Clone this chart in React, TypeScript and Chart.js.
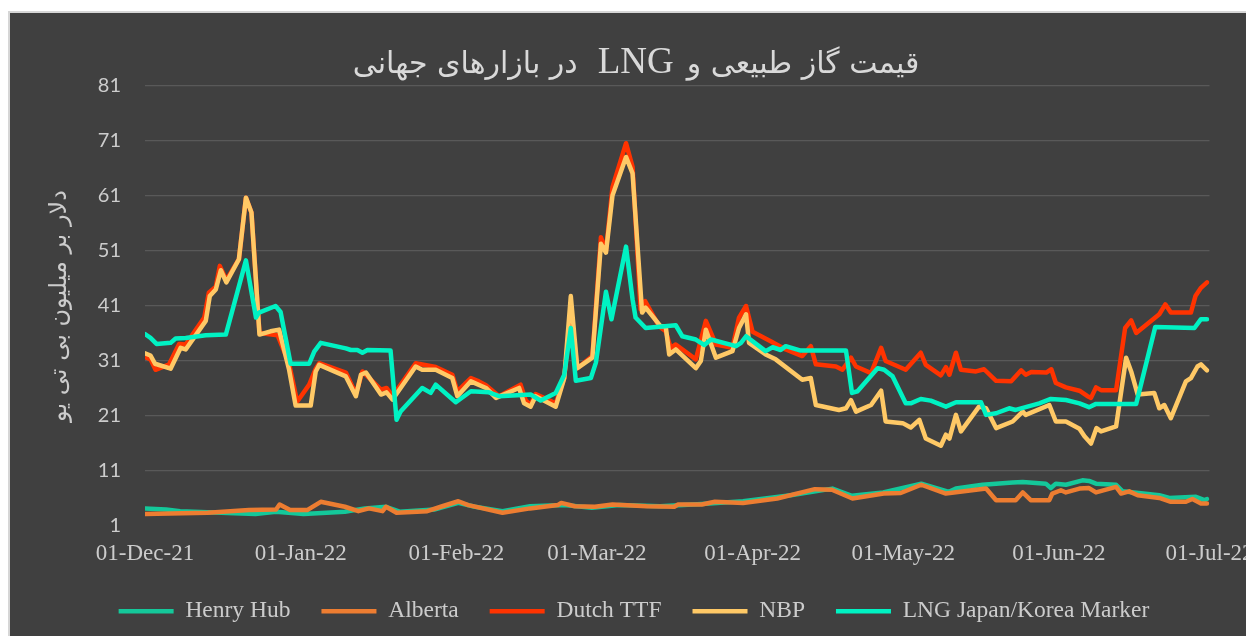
import React, { useEffect, useRef } from "react";
import { Chart, registerables } from "chart.js";

Chart.register(...registerables);

// title pieces in reading order (right-to-left)
const titleParts = ["قیمت گاز طبیعی و", "LNG", "در بازارهای جهانی"];
const yAxisTitle = "دلار بر میلیون بی تی یو";

// x values are days counted from 01-Dec-21
const xTickDays = [0, 31, 62, 90, 121, 151, 182, 212];
const xTickLabels = ["01-Dec-21", "01-Jan-22", "01-Feb-22", "01-Mar-22", "01-Apr-22", "01-May-22", "01-Jun-22", "01-Jul-22"];
const yTickValues = [1, 11, 21, 31, 41, 51, 61, 71, 81];

const henryDay = [0, 4.2, 7.0, 15.1, 22.0, 26.1, 31.6, 39.8, 43.8, 48.0, 50.7, 57.6, 62.4, 65.7, 71.2, 76.7, 83.5, 89.0, 94.4, 102.6, 110.9, 119.1, 128.6, 136.9, 140.8, 147.0, 154.6, 160.1, 161.5, 166.8, 172.8, 174.8, 179.4, 180.4, 181.4, 183.4, 186.7, 188.0, 189.4, 193.4, 194.7, 202.0, 204.0, 209.3, 211.0, 211.5];
const henryVal = [4.2, 4.0, 3.7, 3.4, 3.2, 3.6, 3.2, 3.6, 4.2, 4.5, 3.6, 4.0, 5.2, 4.5, 3.7, 4.6, 4.8, 4.3, 4.8, 4.6, 5.0, 5.5, 6.6, 7.8, 6.5, 7.1, 8.7, 7.2, 7.8, 8.5, 8.9, 9.0, 8.7, 7.9, 8.7, 8.5, 9.3, 9.2, 8.7, 8.5, 7.3, 6.6, 6.1, 6.3, 5.7, 5.9];

const albertaDay = [0, 12.5, 20.7, 26.1, 26.8, 28.9, 32.3, 35.0, 39.8, 42.5, 44.6, 47.3, 48.0, 50.1, 56.2, 58.9, 62.4, 64.4, 71.2, 76.7, 82.2, 82.9, 85.6, 89.6, 93.1, 99.9, 105.4, 106.1, 110.9, 113.5, 119.1, 125.9, 133.4, 136.8, 140.9, 147.1, 150.5, 154.6, 159.5, 167.5, 169.5, 173.4, 174.8, 176.4, 180.1, 180.7, 182.4, 183.4, 186.1, 188.0, 189.4, 193.4, 194.4, 196.0, 197.7, 202.0, 204.3, 207.3, 208.6, 210.3, 211.5];
const albertaVal = [3.2, 3.4, 3.9, 4.0, 4.9, 3.9, 3.9, 5.4, 4.5, 3.7, 4.2, 3.7, 4.5, 3.4, 3.7, 4.5, 5.5, 4.8, 3.4, 4.2, 4.8, 5.2, 4.6, 4.5, 4.9, 4.6, 4.5, 4.9, 4.9, 5.4, 5.2, 6.0, 7.7, 7.6, 6.0, 6.9, 7.0, 8.5, 6.9, 7.8, 5.7, 5.7, 7.1, 5.7, 5.7, 6.9, 7.5, 7.1, 7.8, 7.9, 7.1, 8.1, 6.9, 7.3, 6.6, 6.1, 5.4, 5.4, 5.9, 5.1, 5.1];

const ttfDay = [0, 1.1, 2.1, 4.8, 6.8, 8.1, 11.8, 12.7, 14.1, 14.9, 16.2, 18.7, 20.1, 21.2, 22.8, 26.4, 28.7, 30.3, 32.7, 34.0, 34.7, 40.0, 42.0, 43.3, 47.0, 48.1, 49.3, 53.9, 57.9, 61.2, 62.2, 64.9, 66.5, 67.9, 70.5, 74.8, 75.8, 76.8, 77.8, 81.8, 83.5, 84.8, 86.1, 89.1, 90.8, 91.8, 93.1, 95.8, 97.1, 98.7, 99.6, 102.4, 103.7, 104.7, 105.7, 109.7, 111.7, 113.7, 117.0, 118.3, 119.7, 121.0, 124.6, 127.6, 130.9, 132.6, 133.6, 137.6, 138.9, 140.6, 141.6, 144.6, 146.6, 147.5, 151.5, 154.5, 155.5, 158.5, 159.5, 160.2, 161.5, 162.5, 165.5, 167.1, 169.5, 172.5, 174.5, 175.4, 176.5, 179.5, 180.5, 181.4, 183.4, 186.1, 187.7, 188.4, 189.4, 190.4, 193.4, 195.2, 196.4, 197.4, 202.0, 203.2, 204.3, 208.3, 209.2, 210.3, 211.5];
const ttfVal = [31.7, 31.3, 29.4, 30.4, 34.1, 34.0, 38.9, 43.4, 44.5, 48.3, 45.7, 49.5, 60.7, 58.0, 36.1, 35.7, 30.5, 23.6, 26.7, 29.6, 30.6, 28.9, 25.0, 29.1, 25.8, 26.1, 24.6, 30.6, 29.9, 28.5, 25.5, 27.9, 27.3, 26.6, 24.6, 26.7, 23.9, 23.0, 25.0, 23.3, 27.9, 40.0, 29.7, 31.9, 53.5, 51.0, 62.6, 70.6, 66.3, 40.4, 41.9, 37.3, 36.4, 33.4, 34.0, 31.3, 38.3, 34.0, 33.4, 38.9, 41.0, 36.3, 34.6, 33.1, 31.9, 33.7, 30.4, 30.0, 29.4, 31.6, 30.0, 28.8, 33.4, 31.0, 29.4, 32.5, 30.3, 28.4, 29.9, 28.5, 32.5, 29.4, 29.1, 29.5, 27.4, 27.3, 29.3, 28.5, 29.0, 28.9, 29.5, 27.0, 26.2, 25.6, 24.6, 24.3, 26.2, 25.7, 25.7, 37.0, 38.4, 36.1, 39.5, 41.3, 39.8, 39.8, 42.8, 44.3, 45.3];

const nbpDay = [0, 1.1, 2.0, 5.1, 7.1, 8.1, 12.1, 12.9, 14.1, 15.1, 16.2, 18.7, 20.1, 21.2, 22.8, 25.0, 26.7, 28.7, 30.0, 33.0, 34.0, 34.7, 40.0, 42.0, 43.0, 44.0, 47.0, 48.1, 49.3, 53.9, 55.2, 57.9, 61.2, 62.2, 64.9, 67.9, 69.9, 74.5, 75.5, 76.8, 77.8, 81.8, 83.5, 84.8, 86.1, 89.1, 90.8, 91.8, 93.1, 95.8, 97.1, 99.0, 99.7, 102.7, 103.7, 104.4, 105.7, 109.7, 110.7, 111.7, 113.7, 117.0, 118.3, 119.7, 120.3, 123.6, 125.6, 130.9, 132.6, 133.6, 138.2, 139.6, 140.6, 141.6, 144.6, 146.6, 147.5, 150.9, 152.5, 154.2, 155.5, 158.5, 159.5, 160.2, 161.5, 162.5, 166.1, 167.5, 169.5, 172.8, 174.8, 175.4, 180.1, 181.4, 183.4, 186.1, 187.1, 188.4, 189.5, 190.4, 193.4, 195.4, 196.4, 197.7, 201.0, 202.0, 203.0, 204.3, 207.3, 208.3, 209.6, 210.3, 211.5];
const nbpVal = [32.4, 32.0, 30.5, 29.6, 33.4, 33.1, 38.3, 42.8, 44.0, 47.5, 45.3, 49.5, 60.7, 58.0, 35.8, 36.4, 36.7, 29.4, 22.9, 22.9, 29.1, 30.3, 28.2, 24.6, 28.5, 28.9, 24.9, 25.3, 24.0, 30.0, 29.4, 29.4, 27.9, 24.6, 27.3, 26.1, 24.3, 26.1, 23.3, 22.7, 24.6, 22.7, 27.9, 42.8, 29.7, 31.6, 52.3, 50.7, 61.1, 68.1, 65.1, 39.8, 40.7, 37.3, 37.3, 32.2, 33.1, 29.7, 31.0, 36.7, 31.6, 32.8, 37.0, 39.5, 34.3, 32.2, 31.3, 27.6, 27.9, 23.0, 22.1, 22.4, 23.9, 21.8, 23.0, 25.6, 20.0, 19.7, 18.9, 20.3, 16.9, 15.6, 17.6, 16.9, 21.2, 18.2, 22.7, 22.4, 18.8, 20.0, 21.8, 21.2, 23.0, 20.0, 20.0, 18.7, 17.3, 16.0, 18.8, 18.2, 19.1, 31.6, 29.1, 24.9, 25.2, 22.4, 23.0, 20.6, 27.3, 27.9, 30.0, 30.4, 29.3];

const lngDay = [0, 1.1, 2.3, 5.1, 6.1, 8.1, 12.1, 16.1, 20.1, 22.1, 22.7, 26.0, 27.0, 29.0, 32.7, 33.7, 35.0, 40.0, 41.0, 42.3, 43.3, 44.3, 48.9, 50.1, 50.9, 55.2, 56.9, 57.9, 61.9, 64.9, 68.5, 70.5, 76.8, 78.8, 81.8, 83.5, 84.8, 85.8, 88.8, 89.8, 91.8, 92.9, 95.8, 97.1, 97.7, 99.7, 105.7, 107.0, 109.7, 111.4, 112.7, 117.7, 118.7, 119.7, 123.6, 125.0, 126.6, 127.6, 130.6, 139.6, 140.8, 141.9, 145.9, 147.2, 148.9, 151.5, 152.5, 154.5, 156.5, 159.5, 161.5, 166.5, 167.5, 169.5, 172.1, 173.4, 178.1, 180.4, 183.4, 186.1, 188.0, 189.4, 197.4, 201.2, 209.0, 210.3, 211.5];
const lngVal = [35.9, 35.2, 34.1, 34.3, 35.1, 35.2, 35.7, 35.8, 49.3, 38.9, 39.8, 41.0, 39.9, 30.5, 30.5, 32.7, 34.3, 33.3, 33.0, 33.0, 32.5, 33.0, 32.9, 20.3, 21.8, 26.1, 25.2, 26.7, 23.5, 25.5, 25.3, 24.6, 24.9, 23.8, 25.2, 28.5, 37.0, 27.4, 27.9, 30.7, 43.6, 38.6, 51.8, 42.2, 38.9, 37.0, 37.5, 35.5, 34.9, 33.9, 34.9, 33.7, 34.3, 35.5, 32.8, 33.5, 33.0, 33.7, 32.9, 32.9, 25.2, 25.5, 29.7, 29.4, 28.2, 23.3, 23.3, 24.1, 23.8, 22.7, 23.5, 23.5, 21.2, 21.5, 22.4, 22.1, 23.3, 24.1, 23.9, 23.3, 22.6, 23.2, 23.2, 37.2, 37.0, 38.6, 38.6];

const seriesNames = ["Henry Hub", "Alberta", "Dutch TTF", "NBP", "LNG Japan/Korea Marker"];
const seriesColors = ["#14c89a", "#ed7d31", "#ff3300", "#ffc966", "#00f2c3"];

const CANVAS_W = 1248;
const CANVAS_H = 620;
const PLOT_TOP = 73;
const PLOT_BOTTOM = 513;
const PLOT_RIGHT_GAP = 48.5;

const toPoints = (days: number[], vals: number[]) => days.map((d, i) => ({ x: d, y: vals[i] }));

const titlePlugin = {
  id: "rtlTitle",
  afterDraw(chart: any) {
    const ctx = chart.ctx;
    const arabicFont = '30px "DejaVu Sans", sans-serif';
    const latinFont = '37px "Liberation Serif", serif';
    const fonts = [arabicFont, latinFont, arabicFont];
    const gaps = [13, 20];
    ctx.save();
    const widths = titleParts.map((t, i) => {
      ctx.font = fonts[i];
      return ctx.measureText(t).width;
    });
    const total = widths.reduce((a: number, b: number) => a + b, 0) + gaps[0] + gaps[1];
    let right = chart.width / 2 + 2 + total / 2;
    ctx.fillStyle = "#d9d9d9";
    ctx.textAlign = "right";
    ctx.textBaseline = "alphabetic";
    titleParts.forEach((t, i) => {
      ctx.font = fonts[i];
      ctx.fillText(t, right, 60);
      right -= widths[i] + (i < gaps.length ? gaps[i] : 0);
    });
    ctx.restore();
  },
};

export default function App() {
  const canvasRef = useRef<HTMLCanvasElement | null>(null);

  useEffect(() => {
    document.documentElement.style.overflow = "hidden";
    document.body.style.overflow = "hidden";
    const canvas = canvasRef.current;
    if (!canvas) return;
    const allDays = [henryDay, albertaDay, ttfDay, nbpDay, lngDay];
    const allVals = [henryVal, albertaVal, ttfVal, nbpVal, lngVal];
    const datasets = seriesNames.map((name, i) => ({
      label: name,
      data: toPoints(allDays[i], allVals[i]),
      borderColor: seriesColors[i],
      backgroundColor: seriesColors[i],
      borderWidth: 4.5,
      borderCapStyle: "round" as const,
      borderJoinStyle: "round" as const,
      pointRadius: 0,
      tension: 0,
      fill: false,
      order: seriesNames.length - i,
    }));

    const chart = new Chart(canvas, {
      type: "line",
      data: { datasets },
      plugins: [titlePlugin],
      options: {
        responsive: false,
        animation: false,
        devicePixelRatio: 1,
        layout: { padding: { top: PLOT_TOP, right: 0, left: 0, bottom: 0 } },
        plugins: {
          title: { display: false },
          tooltip: { enabled: false },
          legend: {
            display: true,
            position: "bottom",
            labels: {
              usePointStyle: true,
              pointStyle: "line",
              pointStyleWidth: 55,
              color: "#cccccc",
              font: { family: '"Liberation Serif", serif', size: 23.5 },
              padding: 31,
              sort: (a: any, b: any) => a.datasetIndex - b.datasetIndex,
            },
          },
        },
        scales: {
          x: {
            type: "linear",
            min: 0,
            max: 212,
            afterBuildTicks: (s: any) => {
              s.ticks = xTickDays.map((v) => ({ value: v }));
            },
            afterFit: (s: any) => {
              const lg = s.chart.legend;
              s.height = CANVAS_H - PLOT_BOTTOM - (lg ? lg.height : 0);
              s.paddingRight = PLOT_RIGHT_GAP;
            },
            grid: { display: false, drawTicks: false },
            border: { display: false },
            ticks: {
              color: "#cccccc",
              font: { family: '"Liberation Serif", serif', size: 23 },
              padding: 14,
              maxRotation: 0,
              autoSkip: false,
              callback: (v: any) => {
                const i = xTickDays.indexOf(Number(v));
                return i >= 0 ? xTickLabels[i] : "";
              },
            },
          },
          y: {
            type: "linear",
            min: 1,
            max: 81,
            afterBuildTicks: (s: any) => {
              s.ticks = yTickValues.map((v) => ({ value: v }));
            },
            afterFit: (s: any) => {
              s.width = 135;
            },
            grid: {
              color: (c: any) => (c.tick && c.tick.value === 1 ? "rgba(0,0,0,0)" : "#595959"),
              lineWidth: 1.3,
              drawTicks: false,
            },
            border: { display: false },
            ticks: {
              color: "#cccccc",
              font: { family: "Lato, sans-serif", size: 20 },
              padding: 24,
            },
            title: {
              display: true,
              text: yAxisTitle,
              color: "#cccccc",
              font: { family: '"DejaVu Sans", sans-serif', size: 24 },
              padding: { top: 35, bottom: 0 },
            },
          },
        },
      },
    });
    return () => chart.destroy();
  }, []);

  return (
    <div
      style={{
        position: "fixed",
        left: 8,
        top: 11,
        width: 1260,
        height: 640,
        background: "#404040",
        borderLeft: "2px solid #d6d6d6",
        borderTop: "2px solid #d6d6d6",
      }}
    >
      <canvas
        ref={canvasRef}
        width={CANVAS_W}
        height={CANVAS_H}
        style={{ display: "block", width: CANVAS_W, height: CANVAS_H }}
      />
    </div>
  );
}
